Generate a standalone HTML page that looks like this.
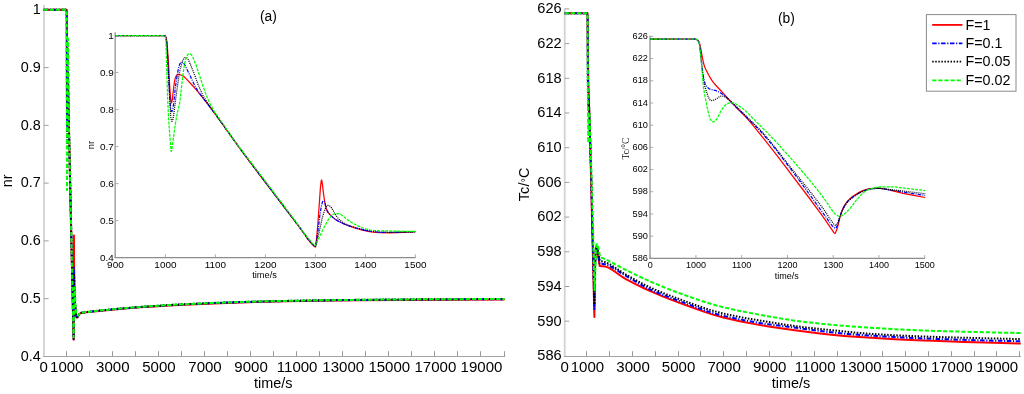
<!DOCTYPE html>
<html><head><meta charset="utf-8"><style>
html,body{margin:0;padding:0;background:#fff;}
svg{display:block;}
text{font-family:"Liberation Sans",sans-serif;fill:#000;}
</style></head><body>
<svg width="1024" height="394" viewBox="0 0 1024 394">
<rect width="1024" height="394" fill="#fff"/>
<line x1="44.0" y1="5.0" x2="44.0" y2="356.4" stroke="#d2d2d2" stroke-width="1.8"/>
<line x1="43.1" y1="356.5" x2="505.2" y2="356.5" stroke="#a4a4a4" stroke-width="1.1"/>
<line x1="66.50" y1="356.5" x2="66.50" y2="351.2" stroke="#999" stroke-width="1"/>
<line x1="89.50" y1="356.5" x2="89.50" y2="351.2" stroke="#999" stroke-width="1"/>
<line x1="112.50" y1="356.5" x2="112.50" y2="351.2" stroke="#999" stroke-width="1"/>
<line x1="135.50" y1="356.5" x2="135.50" y2="351.2" stroke="#999" stroke-width="1"/>
<line x1="158.50" y1="356.5" x2="158.50" y2="351.2" stroke="#999" stroke-width="1"/>
<line x1="181.50" y1="356.5" x2="181.50" y2="351.2" stroke="#999" stroke-width="1"/>
<line x1="204.50" y1="356.5" x2="204.50" y2="351.2" stroke="#999" stroke-width="1"/>
<line x1="227.50" y1="356.5" x2="227.50" y2="351.2" stroke="#999" stroke-width="1"/>
<line x1="250.50" y1="356.5" x2="250.50" y2="351.2" stroke="#999" stroke-width="1"/>
<line x1="273.50" y1="356.5" x2="273.50" y2="351.2" stroke="#999" stroke-width="1"/>
<line x1="296.50" y1="356.5" x2="296.50" y2="351.2" stroke="#999" stroke-width="1"/>
<line x1="319.50" y1="356.5" x2="319.50" y2="351.2" stroke="#999" stroke-width="1"/>
<line x1="342.50" y1="356.5" x2="342.50" y2="351.2" stroke="#999" stroke-width="1"/>
<line x1="365.50" y1="356.5" x2="365.50" y2="351.2" stroke="#999" stroke-width="1"/>
<line x1="388.50" y1="356.5" x2="388.50" y2="351.2" stroke="#999" stroke-width="1"/>
<line x1="411.50" y1="356.5" x2="411.50" y2="351.2" stroke="#999" stroke-width="1"/>
<line x1="434.50" y1="356.5" x2="434.50" y2="351.2" stroke="#999" stroke-width="1"/>
<line x1="457.50" y1="356.5" x2="457.50" y2="351.2" stroke="#999" stroke-width="1"/>
<line x1="480.50" y1="356.5" x2="480.50" y2="351.2" stroke="#999" stroke-width="1"/>
<line x1="504.50" y1="356.5" x2="504.50" y2="351.2" stroke="#999" stroke-width="1"/>
<line x1="44.0" y1="9.80" x2="48.6" y2="9.80" stroke="#a0a0a0" stroke-width="1"/>
<line x1="44.0" y1="67.57" x2="48.6" y2="67.57" stroke="#a0a0a0" stroke-width="1"/>
<line x1="44.0" y1="125.34" x2="48.6" y2="125.34" stroke="#a0a0a0" stroke-width="1"/>
<line x1="44.0" y1="183.11" x2="48.6" y2="183.11" stroke="#a0a0a0" stroke-width="1"/>
<line x1="44.0" y1="240.88" x2="48.6" y2="240.88" stroke="#a0a0a0" stroke-width="1"/>
<line x1="44.0" y1="298.65" x2="48.6" y2="298.65" stroke="#a0a0a0" stroke-width="1"/>
<path d="M43.70,9.80L66.69,9.80L66.71,9.89L66.81,20.03L67.02,115.04L67.22,73.46L67.29,71.00L67.39,70.49L67.68,76.75L68.74,118.87L70.55,203.54L73.33,328.45L73.65,339.71L73.93,235.45L74.16,281.01L74.52,295.39L75.01,304.56L75.69,312.23L76.26,316.43L76.59,317.45L77.02,317.69L77.27,317.59L77.93,316.71L79.33,314.07L80.40,313.28L81.46,312.94L83.60,312.63L114.58,309.49L127.40,308.37L140.22,307.36L154.11,306.40L169.06,305.48L201.11,303.89L226.75,302.91L255.59,302.04L286.57,301.33L320.76,300.74L358.15,300.28L399.81,299.92L504.50,299.43" stroke="#ff0000" stroke-width="2" fill="none" stroke-linejoin="round"/>
<path d="M43.70,9.80L66.69,9.80L66.71,9.88L66.80,20.18L67.02,127.70L67.35,59.68L67.44,52.23L67.50,51.34L67.58,52.78L68.36,102.41L73.31,327.24L73.65,339.09L73.92,277.58L74.03,267.76L74.26,287.10L74.54,295.98L74.86,302.12L75.43,309.38L76.08,314.83L76.53,316.71L76.66,316.91L77.05,317.07L77.26,317.01L77.65,316.68L78.26,315.98L79.33,313.97L80.40,313.18L81.46,312.83L84.67,312.34L96.42,311.03L119.92,308.72L145.56,306.69L173.34,304.95L203.25,303.51L228.89,302.55L257.73,301.70L288.71,301.00L321.83,300.44L359.22,299.98L400.88,299.62L504.50,299.14" stroke="#0000ff" stroke-width="2" fill="none" stroke-linejoin="round" stroke-dasharray="4.5,1.6,1.2,1.6"/>
<path d="M43.70,9.80L66.69,9.80L66.71,9.88L66.80,20.18L67.03,143.12L67.43,60.94L67.58,46.11L67.66,43.95L67.73,44.66L68.42,99.84L68.71,116.34L73.31,327.22L73.65,338.62L74.04,285.82L74.25,274.92L74.71,295.56L75.07,304.44L75.55,310.16L76.14,314.90L76.56,316.42L76.82,316.77L77.07,316.92L77.30,316.82L78.26,315.98L79.33,313.95L80.40,313.14L81.46,312.76L85.74,312.10L98.56,310.64L122.06,308.36L146.63,306.44L173.34,304.78L203.25,303.34L228.89,302.37L257.73,301.52L288.71,300.83L321.83,300.27L359.22,299.81L400.88,299.45L504.50,298.96" stroke="#000000" stroke-width="2" fill="none" stroke-linejoin="round" stroke-dasharray="1.5,1.55"/>
<path d="M43.70,9.80L66.69,9.80L67.00,190.17L67.62,55.70L67.75,40.32L67.83,38.25L67.92,39.26L68.65,105.25L69.02,130.09L73.09,316.53L73.64,337.36L74.26,296.34L74.44,289.70L74.61,287.57L74.73,287.82L74.85,289.63L75.52,305.44L76.15,313.19L76.31,313.95L76.65,314.56L77.50,315.17L78.26,315.51L79.33,313.78L80.40,313.08L81.46,312.74L82.53,312.53L96.42,310.87L113.51,309.13L135.95,307.22L159.45,305.59L185.09,304.17L211.79,302.99L237.43,302.10L265.21,301.34L295.12,300.70L328.24,300.18L364.56,299.75L405.15,299.42L504.50,298.96" stroke="#00ff00" stroke-width="2" fill="none" stroke-linejoin="round" stroke-dasharray="4.2,1.9"/>
<line x1="564.7" y1="8.4" x2="564.7" y2="355.9" stroke="#d2d2d2" stroke-width="1.8"/>
<line x1="563.8000000000001" y1="356.5" x2="1021.0" y2="356.5" stroke="#a4a4a4" stroke-width="1.1"/>
<line x1="586.50" y1="356.5" x2="586.50" y2="351.2" stroke="#999" stroke-width="1"/>
<line x1="609.50" y1="356.5" x2="609.50" y2="351.2" stroke="#999" stroke-width="1"/>
<line x1="632.50" y1="356.5" x2="632.50" y2="351.2" stroke="#999" stroke-width="1"/>
<line x1="655.50" y1="356.5" x2="655.50" y2="351.2" stroke="#999" stroke-width="1"/>
<line x1="678.50" y1="356.5" x2="678.50" y2="351.2" stroke="#999" stroke-width="1"/>
<line x1="700.50" y1="356.5" x2="700.50" y2="351.2" stroke="#999" stroke-width="1"/>
<line x1="723.50" y1="356.5" x2="723.50" y2="351.2" stroke="#999" stroke-width="1"/>
<line x1="746.50" y1="356.5" x2="746.50" y2="351.2" stroke="#999" stroke-width="1"/>
<line x1="769.50" y1="356.5" x2="769.50" y2="351.2" stroke="#999" stroke-width="1"/>
<line x1="791.50" y1="356.5" x2="791.50" y2="351.2" stroke="#999" stroke-width="1"/>
<line x1="814.50" y1="356.5" x2="814.50" y2="351.2" stroke="#999" stroke-width="1"/>
<line x1="837.50" y1="356.5" x2="837.50" y2="351.2" stroke="#999" stroke-width="1"/>
<line x1="860.50" y1="356.5" x2="860.50" y2="351.2" stroke="#999" stroke-width="1"/>
<line x1="882.50" y1="356.5" x2="882.50" y2="351.2" stroke="#999" stroke-width="1"/>
<line x1="905.50" y1="356.5" x2="905.50" y2="351.2" stroke="#999" stroke-width="1"/>
<line x1="928.50" y1="356.5" x2="928.50" y2="351.2" stroke="#999" stroke-width="1"/>
<line x1="951.50" y1="356.5" x2="951.50" y2="351.2" stroke="#999" stroke-width="1"/>
<line x1="974.50" y1="356.5" x2="974.50" y2="351.2" stroke="#999" stroke-width="1"/>
<line x1="996.50" y1="356.5" x2="996.50" y2="351.2" stroke="#999" stroke-width="1"/>
<line x1="1019.50" y1="356.5" x2="1019.50" y2="351.2" stroke="#999" stroke-width="1"/>
<line x1="564.7" y1="321.20" x2="569.3000000000001" y2="321.20" stroke="#a0a0a0" stroke-width="1"/>
<line x1="564.7" y1="286.50" x2="569.3000000000001" y2="286.50" stroke="#a0a0a0" stroke-width="1"/>
<line x1="564.7" y1="251.80" x2="569.3000000000001" y2="251.80" stroke="#a0a0a0" stroke-width="1"/>
<line x1="564.7" y1="217.10" x2="569.3000000000001" y2="217.10" stroke="#a0a0a0" stroke-width="1"/>
<line x1="564.7" y1="182.40" x2="569.3000000000001" y2="182.40" stroke="#a0a0a0" stroke-width="1"/>
<line x1="564.7" y1="147.70" x2="569.3000000000001" y2="147.70" stroke="#a0a0a0" stroke-width="1"/>
<line x1="564.7" y1="113.00" x2="569.3000000000001" y2="113.00" stroke="#a0a0a0" stroke-width="1"/>
<line x1="564.7" y1="78.30" x2="569.3000000000001" y2="78.30" stroke="#a0a0a0" stroke-width="1"/>
<line x1="564.7" y1="43.60" x2="569.3000000000001" y2="43.60" stroke="#a0a0a0" stroke-width="1"/>
<line x1="564.7" y1="8.90" x2="569.3000000000001" y2="8.90" stroke="#a0a0a0" stroke-width="1"/>
<path d="M564.70,13.24L587.45,13.28L587.48,13.42L587.65,20.18L587.90,56.65L588.28,78.38L589.99,136.21L590.78,166.38L594.38,316.93L594.75,280.88L595.07,264.86L595.35,257.35L595.76,250.25L596.10,247.18L596.34,246.36L596.53,246.10L596.78,247.05L597.92,255.18L599.70,266.01L603.08,266.18L604.77,266.42L606.47,266.88L609.00,267.94L610.69,268.86L613.23,270.45L621.69,276.53L624.22,278.18L625.91,279.15L636.06,284.39L644.52,288.50L652.13,291.93L661.43,295.84L669.04,298.86L677.49,302.07L695.25,308.64L704.55,311.92L710.47,313.85L716.39,315.62L722.31,317.19L729.92,319.03L740.91,321.41L753.60,323.86L767.13,326.21L780.65,328.32L796.72,330.57L817.86,333.25L831.39,334.77L844.07,335.95L859.29,337.11L875.36,338.12L894.81,339.16L916.79,340.16L939.62,341.07L964.15,341.91L993.74,342.80L1020.80,343.50" stroke="#ff0000" stroke-width="2" fill="none" stroke-linejoin="round"/>
<path d="M564.70,13.24L587.45,13.28L587.48,13.41L587.64,20.30L587.85,73.11L587.99,86.78L588.13,90.87L588.53,94.51L588.87,101.31L590.78,160.77L594.40,309.11L594.80,277.40L595.11,264.17L595.41,257.14L595.82,250.30L596.14,247.39L596.34,246.79L596.53,246.57L596.77,247.24L598.88,257.52L599.70,263.62L603.08,263.88L604.77,264.15L607.31,264.91L609.85,266.00L614.08,268.38L624.22,274.98L642.83,285.70L646.21,287.52L649.59,289.21L653.82,291.13L658.89,293.29L670.73,297.88L696.10,307.31L705.40,310.62L711.32,312.54L717.24,314.27L723.16,315.78L729.92,317.35L739.22,319.31L748.52,321.06L759.52,322.92L768.82,324.32L800.95,328.42L828.01,331.99L837.31,333.04L848.30,334.03L863.52,335.17L882.97,336.40L901.57,337.44L919.33,338.27L939.62,339.05L963.30,339.80L993.74,340.66L1020.80,341.30" stroke="#0000ff" stroke-width="2" fill="none" stroke-linejoin="round" stroke-dasharray="4.5,1.6,1.2,1.6"/>
<path d="M564.70,13.24L587.45,13.28L587.48,13.41L587.64,20.30L587.87,81.50L588.16,108.07L588.21,109.28L588.36,108.64L588.72,102.18L588.77,102.12L588.83,102.41L588.94,103.71L590.48,149.22L591.34,179.87L594.43,304.42L594.84,276.12L595.16,263.64L595.84,250.37L596.14,247.59L596.36,246.68L596.53,246.42L596.73,246.82L598.88,254.86L599.70,260.28L600.55,261.18L603.08,261.55L604.77,262.02L607.31,263.02L609.85,264.29L613.23,266.30L621.69,271.97L625.07,274.07L636.91,280.68L643.67,284.30L647.90,286.41L652.13,288.36L657.20,290.57L663.12,293.01L674.11,297.23L695.25,304.96L704.55,308.17L713.01,310.81L719.77,312.64L729.07,314.81L742.60,317.52L760.36,320.66L777.27,323.46L792.49,325.71L804.33,327.23L817.86,328.76L853.37,332.36L864.37,333.37L876.21,334.21L891.43,335.10L906.65,335.85L922.71,336.50L961.61,337.68L1020.80,339.10" stroke="#000000" stroke-width="2" fill="none" stroke-linejoin="round" stroke-dasharray="1.5,1.55"/>
<path d="M564.70,13.24L587.45,13.28L587.48,13.41L587.64,20.63L587.88,95.77L588.26,141.70L588.34,142.61L588.46,139.85L588.83,119.97L589.05,113.84L589.18,112.84L589.30,112.57L589.36,112.76L589.70,119.49L591.67,181.22L593.29,239.80L594.34,284.61L594.64,290.35L595.01,282.35L595.59,260.07L595.95,250.11L596.43,245.09L596.73,244.28L597.22,244.07L597.42,244.49L598.88,250.01L599.70,254.74L600.55,257.24L601.39,257.72L603.93,258.59L608.16,260.58L624.22,269.10L640.29,276.97L646.21,279.71L652.13,282.32L666.50,288.28L678.34,292.80L695.25,298.81L706.24,302.45L715.55,305.21L725.69,307.80L737.53,310.45L751.06,313.14L768.82,316.40L782.35,318.71L793.34,320.40L805.18,321.94L818.71,323.47L832.24,324.81L846.61,326.05L862.68,327.22L884.66,328.60L902.42,329.60L918.48,330.34L937.93,331.02L960.76,331.66L992.90,332.44L1020.80,333.00" stroke="#00ff00" stroke-width="2" fill="none" stroke-linejoin="round" stroke-dasharray="4.2,1.9"/>
<line x1="115.2" y1="32.2" x2="115.2" y2="257.6" stroke="#a8a8a8" stroke-width="1.6"/>
<line x1="114.4" y1="257.6" x2="415.6" y2="257.6" stroke="#8c8c8c" stroke-width="1.3"/>
<line x1="115.40" y1="257.6" x2="115.40" y2="254.3" stroke="#999" stroke-width="0.8"/>
<line x1="165.40" y1="257.6" x2="165.40" y2="254.3" stroke="#999" stroke-width="0.8"/>
<line x1="215.40" y1="257.6" x2="215.40" y2="254.3" stroke="#999" stroke-width="0.8"/>
<line x1="265.40" y1="257.6" x2="265.40" y2="254.3" stroke="#999" stroke-width="0.8"/>
<line x1="315.40" y1="257.6" x2="315.40" y2="254.3" stroke="#999" stroke-width="0.8"/>
<line x1="365.40" y1="257.6" x2="365.40" y2="254.3" stroke="#999" stroke-width="0.8"/>
<line x1="415.40" y1="257.6" x2="415.40" y2="254.3" stroke="#999" stroke-width="0.8"/>
<line x1="115.2" y1="35.60" x2="118.5" y2="35.60" stroke="#999" stroke-width="0.8"/>
<line x1="115.2" y1="72.60" x2="118.5" y2="72.60" stroke="#999" stroke-width="0.8"/>
<line x1="115.2" y1="109.60" x2="118.5" y2="109.60" stroke="#999" stroke-width="0.8"/>
<line x1="115.2" y1="146.60" x2="118.5" y2="146.60" stroke="#999" stroke-width="0.8"/>
<line x1="115.2" y1="183.60" x2="118.5" y2="183.60" stroke="#999" stroke-width="0.8"/>
<line x1="115.2" y1="220.60" x2="118.5" y2="220.60" stroke="#999" stroke-width="0.8"/>
<line x1="115.2" y1="257.60" x2="118.5" y2="257.60" stroke="#999" stroke-width="0.8"/>
<path d="M115.40,35.60L164.40,35.60L164.78,35.72L165.15,36.04L165.78,36.91L166.40,39.04L166.78,41.11L167.15,44.68L168.28,59.65L169.65,85.60L170.15,93.01L170.78,99.82L171.15,102.29L171.40,103.00L171.53,102.89L171.78,102.11L172.40,98.78L173.90,85.85L174.53,81.38L175.40,77.69L176.03,76.16L176.78,75.23L177.40,74.80L178.53,74.42L179.53,74.50L181.65,75.25L183.28,76.12L184.15,76.80L186.03,78.60L192.28,85.25L196.40,89.89L205.90,101.62L209.53,106.27L215.53,114.32L236.03,143.23L245.90,156.69L300.15,228.24L308.27,239.52L310.77,242.59L313.65,245.78L314.52,246.58L315.27,246.89L315.40,246.90L315.52,246.73L315.77,245.56L316.15,242.39L317.02,233.77L318.02,221.68L320.40,188.02L321.15,181.29L321.40,180.12L321.52,180.01L321.65,180.17L321.90,181.08L322.52,184.85L323.40,193.00L324.40,199.85L325.65,206.51L326.15,208.54L326.52,209.62L327.15,210.96L327.77,211.99L328.65,213.18L329.52,214.13L332.27,216.86L333.90,218.31L335.52,219.49L337.52,220.69L341.90,222.98L344.65,224.28L347.77,225.51L353.15,227.38L356.77,228.51L361.52,229.78L368.27,231.35L371.27,231.91L375.65,232.39L379.27,232.65L390.27,232.80L403.15,232.38L415.40,231.80" stroke="#ff0000" stroke-width="1.25" fill="none" stroke-linejoin="round"/>
<path d="M115.40,35.60L164.40,35.60L164.78,35.71L165.15,36.03L165.65,36.68L165.90,37.40L166.40,40.00L166.65,42.25L167.28,51.20L168.40,73.70L170.03,101.56L170.28,104.75L170.78,109.11L171.03,110.40L171.40,111.11L171.65,111.40L171.90,111.50L172.15,111.20L172.78,108.90L173.15,106.95L174.03,100.30L175.03,90.52L175.90,83.64L177.28,74.72L178.15,69.83L178.65,67.54L179.78,64.07L180.15,63.32L180.53,62.89L181.28,62.34L181.90,62.20L182.65,62.44L183.65,63.13L184.40,64.27L190.15,75.77L193.65,83.29L195.15,86.22L197.53,90.35L200.53,94.74L203.78,99.11L215.28,114.05L235.90,142.89L243.90,153.79L300.15,228.04L307.90,238.91L310.77,242.44L313.65,245.47L314.52,246.20L315.15,246.47L315.40,246.50L315.52,246.37L315.90,244.77L317.77,232.64L319.90,215.10L321.27,206.46L322.02,203.37L322.52,201.85L322.90,201.30L323.65,200.82L323.90,200.83L324.15,201.08L324.90,202.65L326.27,208.21L327.02,210.26L327.77,211.89L328.27,212.71L328.90,213.50L332.40,216.98L333.90,218.31L335.27,219.33L337.02,220.41L339.40,221.69L342.02,223.00L344.65,224.18L347.52,225.32L350.77,226.46L356.90,228.34L364.40,230.17L370.65,231.42L376.90,232.09L380.77,232.30L391.65,232.39L404.27,232.09L415.40,231.70" stroke="#0000ff" stroke-width="1.25" fill="none" stroke-linejoin="round" stroke-dasharray="3.5,1.2,1,1.2"/>
<path d="M115.40,35.60L164.40,35.60L164.90,35.80L165.53,36.49L165.78,36.98L166.03,37.92L166.53,40.97L167.15,49.24L169.90,102.81L170.65,114.75L170.90,117.51L171.15,119.00L171.53,120.63L171.78,121.22L171.90,121.30L172.28,120.91L172.78,119.59L173.03,118.74L173.40,116.71L174.28,110.44L175.78,98.18L178.78,77.08L179.53,72.39L180.53,67.85L182.40,61.43L182.90,60.20L183.90,58.48L184.53,57.84L185.28,57.51L185.90,57.40L186.53,57.63L187.53,58.53L188.03,59.24L188.53,60.19L191.15,66.15L194.40,74.40L197.78,83.70L201.53,92.45L202.78,95.07L204.03,97.35L207.90,103.47L235.40,142.08L245.53,155.88L300.15,227.94L308.27,239.39L310.90,242.52L313.52,245.13L314.40,245.85L314.90,246.11L315.40,246.20L315.65,245.95L315.90,245.27L316.90,240.88L319.02,232.90L320.90,224.08L322.27,218.20L323.15,214.85L324.27,211.23L325.15,208.92L326.27,206.83L326.90,206.08L327.65,205.59L328.15,205.41L328.77,205.49L329.40,205.80L330.27,206.41L330.90,207.08L331.90,208.45L334.52,213.09L336.90,216.84L339.02,219.27L341.65,221.63L343.65,223.06L346.15,224.31L351.02,226.17L355.27,227.57L361.90,229.38L368.65,230.87L371.90,231.39L377.77,231.94L384.52,232.22L390.90,232.30L415.40,231.70" stroke="#000000" stroke-width="1.25" fill="none" stroke-linejoin="round" stroke-dasharray="1,1.05"/>
<path d="M115.40,35.60L164.40,35.60L164.78,35.79L165.28,36.55L165.65,38.52L165.90,41.77L167.53,95.27L168.28,112.51L168.90,123.14L169.53,131.83L170.90,149.12L171.15,151.12L171.28,151.49L171.40,151.40L171.53,151.03L171.78,149.69L174.90,127.13L176.03,119.86L177.53,112.12L178.15,109.39L179.03,106.25L179.53,103.72L180.03,100.03L181.40,87.64L183.15,73.29L183.90,67.87L184.53,64.38L185.28,60.99L186.03,58.27L186.78,56.39L187.65,54.75L188.28,54.16L188.90,53.89L189.40,53.80L190.28,54.08L191.28,54.80L192.15,55.95L192.90,57.28L195.90,64.73L204.03,89.00L205.40,92.91L206.65,96.13L208.40,100.19L210.40,104.40L213.15,109.64L214.90,112.65L222.28,122.79L231.90,137.11L239.65,147.72L258.77,172.65L290.27,214.29L303.90,233.04L307.02,236.97L310.52,240.96L312.65,243.59L313.40,244.39L314.15,245.00L314.77,245.31L315.40,245.38L315.65,245.22L316.02,244.70L316.52,243.62L317.90,240.01L323.27,228.94L326.40,222.85L328.90,218.75L330.65,216.56L332.27,214.96L332.90,214.55L334.02,214.01L335.52,213.54L336.90,213.51L338.77,213.64L339.65,213.92L341.15,214.68L342.90,215.91L347.27,219.60L350.02,221.32L353.02,223.42L356.65,225.32L359.52,226.61L363.15,228.00L367.27,229.28L369.77,229.94L371.40,230.23L373.40,230.42L380.65,230.80L398.90,231.18L415.40,231.40" stroke="#00ff00" stroke-width="1.25" fill="none" stroke-linejoin="round" stroke-dasharray="3,1.1"/>
<line x1="650.0" y1="35.7" x2="650.0" y2="258.3" stroke="#a8a8a8" stroke-width="1.6"/>
<line x1="649.2" y1="258.3" x2="925.0" y2="258.3" stroke="#8c8c8c" stroke-width="1.3"/>
<line x1="650.20" y1="258.3" x2="650.20" y2="255.0" stroke="#999" stroke-width="0.8"/>
<line x1="695.95" y1="258.3" x2="695.95" y2="255.0" stroke="#999" stroke-width="0.8"/>
<line x1="741.70" y1="258.3" x2="741.70" y2="255.0" stroke="#999" stroke-width="0.8"/>
<line x1="787.45" y1="258.3" x2="787.45" y2="255.0" stroke="#999" stroke-width="0.8"/>
<line x1="833.20" y1="258.3" x2="833.20" y2="255.0" stroke="#999" stroke-width="0.8"/>
<line x1="878.95" y1="258.3" x2="878.95" y2="255.0" stroke="#999" stroke-width="0.8"/>
<line x1="924.70" y1="258.3" x2="924.70" y2="255.0" stroke="#999" stroke-width="0.8"/>
<line x1="650.0" y1="258.32" x2="653.3" y2="258.32" stroke="#999" stroke-width="0.8"/>
<line x1="650.0" y1="236.13" x2="653.3" y2="236.13" stroke="#999" stroke-width="0.8"/>
<line x1="650.0" y1="213.94" x2="653.3" y2="213.94" stroke="#999" stroke-width="0.8"/>
<line x1="650.0" y1="191.74" x2="653.3" y2="191.74" stroke="#999" stroke-width="0.8"/>
<line x1="650.0" y1="169.55" x2="653.3" y2="169.55" stroke="#999" stroke-width="0.8"/>
<line x1="650.0" y1="147.36" x2="653.3" y2="147.36" stroke="#999" stroke-width="0.8"/>
<line x1="650.0" y1="125.17" x2="653.3" y2="125.17" stroke="#999" stroke-width="0.8"/>
<line x1="650.0" y1="102.98" x2="653.3" y2="102.98" stroke="#999" stroke-width="0.8"/>
<line x1="650.0" y1="80.78" x2="653.3" y2="80.78" stroke="#999" stroke-width="0.8"/>
<line x1="650.0" y1="58.59" x2="653.3" y2="58.59" stroke="#999" stroke-width="0.8"/>
<line x1="650.0" y1="36.40" x2="653.3" y2="36.40" stroke="#999" stroke-width="0.8"/>
<path d="M650.20,39.20L695.73,39.20L696.19,39.29L696.64,39.51L697.90,40.48L698.47,41.21L699.05,42.23L699.50,43.27L699.85,44.46L700.99,49.94L702.59,58.69L703.74,63.79L704.54,66.62L705.57,69.05L709.23,76.00L710.60,78.42L712.09,80.67L713.92,83.10L715.75,85.25L720.21,89.99L732.91,103.84L736.57,107.69L743.20,114.23L746.63,117.95L752.81,125.17L763.11,137.83L769.85,146.36L777.86,156.72L808.86,197.50L822.59,216.22L832.20,230.08L833.69,232.43L834.49,233.27L834.94,233.40L835.17,233.24L835.40,232.91L837.23,228.24L838.26,224.70L840.09,216.38L841.69,211.51L843.29,207.81L844.44,205.69L845.70,203.66L847.07,201.77L848.56,200.10L850.50,198.22L852.56,196.52L854.85,194.91L857.94,193.04L860.57,191.63L862.86,190.61L866.75,189.38L870.06,188.68L876.13,188.14L878.30,188.10L880.13,188.22L882.76,188.64L890.08,190.17L900.95,192.82L906.78,194.07L916.39,195.96L925.20,197.50" stroke="#ff0000" stroke-width="1.25" fill="none" stroke-linejoin="round"/>
<path d="M650.20,39.20L695.73,39.20L696.19,39.29L696.64,39.50L697.79,40.37L698.47,41.33L699.16,42.89L699.73,45.61L700.42,50.92L701.22,59.91L701.79,65.10L702.59,71.24L703.74,78.77L704.31,81.18L705.11,83.73L705.68,85.00L706.48,86.20L707.85,87.80L709.23,88.82L710.94,89.44L714.95,90.29L717.35,91.20L719.18,92.11L721.01,93.17L722.50,94.22L724.10,95.50L727.07,98.15L731.88,103.06L742.51,113.25L751.44,122.04L757.61,128.27L762.65,133.65L766.88,138.49L771.34,143.86L776.26,150.04L782.21,157.76L794.22,173.59L801.66,183.62L825.34,216.26L830.14,223.20L831.97,225.45L833.91,227.52L834.72,228.18L835.40,228.40L835.74,228.23L836.20,227.60L837.00,225.99L837.69,224.15L840.55,214.78L842.15,210.61L843.18,208.35L844.10,206.64L845.58,204.25L846.96,202.36L848.21,200.90L849.93,199.23L851.76,197.70L853.82,196.20L856.56,194.46L859.65,192.68L862.06,191.47L864.34,190.53L868.00,189.38L870.52,188.85L876.01,188.44L878.30,188.40L880.01,188.49L882.65,188.79L890.54,190.01L908.61,192.97L925.20,195.40" stroke="#0000ff" stroke-width="1.25" fill="none" stroke-linejoin="round" stroke-dasharray="3.5,1.2,1,1.2"/>
<path d="M650.20,39.20L695.73,39.20L696.19,39.29L696.64,39.50L697.79,40.37L698.47,41.33L699.16,42.89L699.50,44.25L699.85,46.39L700.42,50.89L701.33,61.02L702.48,72.14L703.39,79.35L703.96,82.83L704.88,86.44L707.97,96.01L708.54,97.39L710.03,99.98L710.48,100.45L710.83,100.60L712.54,100.47L713.80,100.19L716.20,98.98L718.84,97.09L720.32,96.33L721.24,96.03L722.27,96.04L723.75,96.34L724.56,96.58L725.58,97.10L726.73,97.81L727.87,98.71L733.71,103.98L756.70,126.49L761.28,131.19L765.39,135.72L769.85,140.96L774.77,147.03L791.13,168.04L808.75,189.89L815.95,199.05L820.76,205.39L825.22,211.51L829.68,218.54L831.17,220.73L834.03,224.27L835.06,225.20L835.63,225.40L836.09,225.27L836.66,224.69L837.46,223.50L837.92,222.46L838.95,219.34L841.01,213.71L842.61,209.99L843.75,207.72L844.78,205.94L846.15,203.93L847.64,202.05L848.90,200.70L850.73,199.02L852.56,197.55L854.62,196.09L857.82,194.07L860.45,192.56L862.74,191.41L864.92,190.53L868.12,189.51L870.63,188.95L875.67,188.39L879.44,188.34L881.96,188.56L887.22,189.24L905.07,191.24L925.20,193.70" stroke="#000000" stroke-width="1.25" fill="none" stroke-linejoin="round" stroke-dasharray="1,1.05"/>
<path d="M650.20,39.20L695.73,39.20L696.19,39.29L696.64,39.50L697.79,40.37L698.36,41.09L698.93,42.25L699.27,43.28L699.50,44.71L701.33,60.98L702.82,80.73L703.62,87.87L704.42,93.37L707.28,107.99L708.31,112.54L709.34,116.40L710.03,118.50L710.48,119.48L711.63,121.19L712.43,121.91L712.77,122.00L713.23,121.94L714.37,121.38L715.86,120.15L717.12,118.29L718.95,114.98L720.89,111.18L723.07,107.59L724.21,106.20L725.47,104.95L726.39,104.27L727.87,103.46L729.02,103.05L730.62,102.84L733.02,102.70L733.94,102.82L734.74,103.13L735.65,103.65L741.14,107.38L744.92,110.43L747.55,112.82L755.67,121.17L767.57,132.93L775.69,141.49L786.90,153.84L794.91,162.94L805.55,175.26L810.46,181.12L816.07,188.05L820.42,193.60L824.19,198.67L826.02,201.30L830.14,207.67L833.80,212.59L834.60,213.49L835.40,214.22L837.58,215.57L838.49,216.02L839.41,216.31L840.21,216.40L840.78,216.31L841.92,215.75L844.67,213.71L846.96,211.72L849.24,209.37L851.87,206.18L854.96,201.90L856.56,199.90L860.11,195.93L862.51,193.50L864.92,191.61L866.97,190.36L869.49,189.31L873.49,188.02L876.13,187.44L880.82,186.99L887.22,186.83L893.17,186.84L896.26,187.11L902.32,187.92L925.20,190.60" stroke="#00ff00" stroke-width="1.25" fill="none" stroke-linejoin="round" stroke-dasharray="3,1.1"/>
<rect x="926.4" y="14.6" width="89.6" height="76.6" fill="#fff" stroke="#8a8a8a" stroke-width="1"/>
<line x1="932.2" y1="24.9" x2="962.4" y2="24.9" stroke="#ff0000" stroke-width="1.8"/>
<line x1="932.2" y1="43.4" x2="962.4" y2="43.4" stroke="#0000ff" stroke-width="1.8" stroke-dasharray="4.5,1.6,1.2,1.6"/>
<line x1="932.2" y1="61.6" x2="962.4" y2="61.6" stroke="#000000" stroke-width="1.8" stroke-dasharray="1.5,1.55"/>
<line x1="932.2" y1="80.4" x2="962.4" y2="80.4" stroke="#00ff00" stroke-width="1.8" stroke-dasharray="4.2,1.9"/>

<g style="filter:grayscale(1)">
<text x="40.7" y="14.10" text-anchor="end" font-size="14.4">1</text>
<text x="40.7" y="71.87" text-anchor="end" font-size="14.4">0.9</text>
<text x="40.7" y="129.64" text-anchor="end" font-size="14.4">0.8</text>
<text x="40.7" y="187.41" text-anchor="end" font-size="14.4">0.7</text>
<text x="40.7" y="245.18" text-anchor="end" font-size="14.4">0.6</text>
<text x="40.7" y="302.95" text-anchor="end" font-size="14.4">0.5</text>
<text x="40.7" y="360.72" text-anchor="end" font-size="14.4">0.4</text>
<text transform="translate(43.70,371.8) scale(1.03,1)" text-anchor="middle" font-size="14.6">0</text>
<text transform="translate(66.74,371.8) scale(1.03,1)" text-anchor="middle" font-size="14.6">1000</text>
<text transform="translate(112.82,371.8) scale(1.03,1)" text-anchor="middle" font-size="14.6">3000</text>
<text transform="translate(158.90,371.8) scale(1.03,1)" text-anchor="middle" font-size="14.6">5000</text>
<text transform="translate(204.98,371.8) scale(1.03,1)" text-anchor="middle" font-size="14.6">7000</text>
<text transform="translate(251.06,371.8) scale(1.03,1)" text-anchor="middle" font-size="14.6">9000</text>
<text transform="translate(297.14,371.8) scale(1.03,1)" text-anchor="middle" font-size="14.6">11000</text>
<text transform="translate(343.22,371.8) scale(1.03,1)" text-anchor="middle" font-size="14.6">13000</text>
<text transform="translate(389.30,371.8) scale(1.03,1)" text-anchor="middle" font-size="14.6">15000</text>
<text transform="translate(435.38,371.8) scale(1.03,1)" text-anchor="middle" font-size="14.6">17000</text>
<text transform="translate(481.46,371.8) scale(1.03,1)" text-anchor="middle" font-size="14.6">19000</text>
<text x="273.2" y="388.4" text-anchor="middle" font-size="14.4">time/s</text>
<text transform="translate(12.1,180.9) rotate(-90)" text-anchor="middle" font-size="14.4">nr</text>
<text x="268.4" y="20.8" text-anchor="middle" font-size="13.8">(a)</text>
<text x="561.7" y="360.20" text-anchor="end" font-size="14.6">586</text>
<text x="561.7" y="325.50" text-anchor="end" font-size="14.6">590</text>
<text x="561.7" y="290.80" text-anchor="end" font-size="14.6">594</text>
<text x="561.7" y="256.10" text-anchor="end" font-size="14.6">598</text>
<text x="561.7" y="221.40" text-anchor="end" font-size="14.6">602</text>
<text x="561.7" y="186.70" text-anchor="end" font-size="14.6">606</text>
<text x="561.7" y="152.00" text-anchor="end" font-size="14.6">610</text>
<text x="561.7" y="117.30" text-anchor="end" font-size="14.6">614</text>
<text x="561.7" y="82.60" text-anchor="end" font-size="14.6">618</text>
<text x="561.7" y="47.90" text-anchor="end" font-size="14.6">622</text>
<text x="561.7" y="13.20" text-anchor="end" font-size="14.6">626</text>
<text transform="translate(564.70,371.6) scale(1.03,1)" text-anchor="middle" font-size="14.6">0</text>
<text transform="translate(587.47,371.6) scale(1.03,1)" text-anchor="middle" font-size="14.6">1000</text>
<text transform="translate(633.01,371.6) scale(1.03,1)" text-anchor="middle" font-size="14.6">3000</text>
<text transform="translate(678.55,371.6) scale(1.03,1)" text-anchor="middle" font-size="14.6">5000</text>
<text transform="translate(724.09,371.6) scale(1.03,1)" text-anchor="middle" font-size="14.6">7000</text>
<text transform="translate(769.63,371.6) scale(1.03,1)" text-anchor="middle" font-size="14.6">9000</text>
<text transform="translate(815.17,371.6) scale(1.03,1)" text-anchor="middle" font-size="14.6">11000</text>
<text transform="translate(860.71,371.6) scale(1.03,1)" text-anchor="middle" font-size="14.6">13000</text>
<text transform="translate(906.25,371.6) scale(1.03,1)" text-anchor="middle" font-size="14.6">15000</text>
<text transform="translate(951.79,371.6) scale(1.03,1)" text-anchor="middle" font-size="14.6">17000</text>
<text transform="translate(997.33,371.6) scale(1.03,1)" text-anchor="middle" font-size="14.6">19000</text>
<text x="791" y="387.7" text-anchor="middle" font-size="14.4">time/s</text>
<text transform="translate(529.4,201.3) rotate(-90)" font-size="14.4">Tc<tspan dx="0.5">/</tspan><tspan dx="0.2" font-size="10" dy="-0.8">°</tspan><tspan dx="0.2" dy="0.8">C</tspan></text>
<text x="786.4" y="22.6" text-anchor="middle" font-size="13.8">(b)</text>
<text transform="translate(113.7,38.70) scale(1.13,1)" text-anchor="end" font-size="8.8">1</text>
<text transform="translate(113.7,75.70) scale(1.13,1)" text-anchor="end" font-size="8.8">0.9</text>
<text transform="translate(113.7,112.70) scale(1.13,1)" text-anchor="end" font-size="8.8">0.8</text>
<text transform="translate(113.7,149.70) scale(1.13,1)" text-anchor="end" font-size="8.8">0.7</text>
<text transform="translate(113.7,186.70) scale(1.13,1)" text-anchor="end" font-size="8.8">0.6</text>
<text transform="translate(113.7,223.70) scale(1.13,1)" text-anchor="end" font-size="8.8">0.5</text>
<text transform="translate(113.7,260.70) scale(1.13,1)" text-anchor="end" font-size="8.8">0.4</text>
<text transform="translate(115.40,267.9) scale(1.13,1)" text-anchor="middle" font-size="8.8">900</text>
<text transform="translate(165.40,267.9) scale(1.13,1)" text-anchor="middle" font-size="8.8">1000</text>
<text transform="translate(215.40,267.9) scale(1.13,1)" text-anchor="middle" font-size="8.8">1100</text>
<text transform="translate(265.40,267.9) scale(1.13,1)" text-anchor="middle" font-size="8.8">1200</text>
<text transform="translate(315.40,267.9) scale(1.13,1)" text-anchor="middle" font-size="8.8">1300</text>
<text transform="translate(365.40,267.9) scale(1.13,1)" text-anchor="middle" font-size="8.8">1400</text>
<text transform="translate(415.40,267.9) scale(1.13,1)" text-anchor="middle" font-size="8.8">1500</text>
<text transform="translate(264.6,278.3) scale(1.06,1)" text-anchor="middle" font-size="8.8">time/s</text>
<text transform="translate(93.7,145) rotate(-90)" text-anchor="middle" font-size="9.3">nr</text>
<text x="647.9" y="260.92" text-anchor="end" font-size="9.2">586</text>
<text x="647.9" y="238.73" text-anchor="end" font-size="9.2">590</text>
<text x="647.9" y="216.54" text-anchor="end" font-size="9.2">594</text>
<text x="647.9" y="194.34" text-anchor="end" font-size="9.2">598</text>
<text x="647.9" y="172.15" text-anchor="end" font-size="9.2">602</text>
<text x="647.9" y="149.96" text-anchor="end" font-size="9.2">606</text>
<text x="647.9" y="127.77" text-anchor="end" font-size="9.2">610</text>
<text x="647.9" y="105.58" text-anchor="end" font-size="9.2">614</text>
<text x="647.9" y="83.38" text-anchor="end" font-size="9.2">618</text>
<text x="647.9" y="61.19" text-anchor="end" font-size="9.2">622</text>
<text x="647.9" y="39.00" text-anchor="end" font-size="9.2">626</text>
<text x="650.20" y="268.2" text-anchor="middle" font-size="9.0">0</text>
<text x="695.95" y="268.2" text-anchor="middle" font-size="9.0">1000</text>
<text x="741.70" y="268.2" text-anchor="middle" font-size="9.0">1100</text>
<text x="787.45" y="268.2" text-anchor="middle" font-size="9.0">1200</text>
<text x="833.20" y="268.2" text-anchor="middle" font-size="9.0">1300</text>
<text x="878.95" y="268.2" text-anchor="middle" font-size="9.0">1400</text>
<text x="924.70" y="268.2" text-anchor="middle" font-size="9.0">1500</text>
<text x="786.7" y="278.9" text-anchor="middle" font-size="9.0">time/s</text>
<text transform="translate(629.2,148.7) rotate(-90)" text-anchor="middle" font-size="9.4" style="font-family:Liberation Serif,serif">Tc/°C</text>
<text x="965.5" y="29.5" font-size="14.3">F=1</text>
<text x="965.5" y="48.0" font-size="14.3">F=0.1</text>
<text x="965.5" y="66.2" font-size="14.3">F=0.05</text>
<text x="965.5" y="85.0" font-size="14.3">F=0.02</text>
</g>
</svg>
</body></html>
